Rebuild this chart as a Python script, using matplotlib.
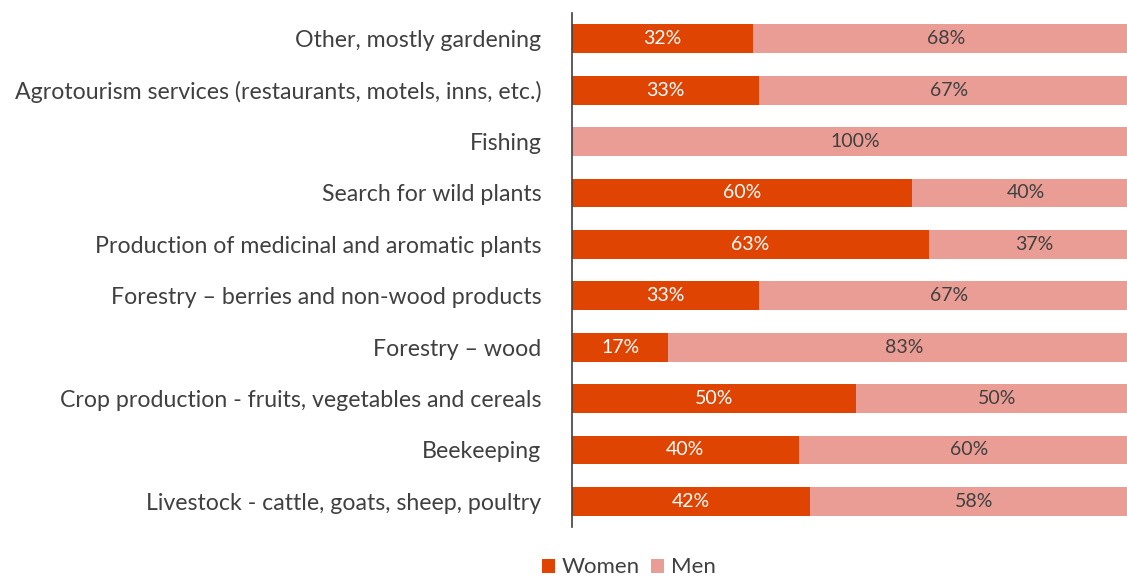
import numpy as np
import matplotlib.pyplot as plt

plt.rcParams['font.family'] = ['Lato', 'DejaVu Sans']

categories = [
    "Livestock - cattle, goats, sheep, poultry",
    "Beekeeping",
    "Crop production - fruits, vegetables and cereals",
    "Forestry \u2013 wood",
    "Forestry \u2013 berries and non-wood products",
    "Production of medicinal and aromatic plants",
    "Search for wild plants",
    "Fishing",
    "Agrotourism services (restaurants, motels, inns, etc.)",
    "Other, mostly gardening",
]
women = [42, 40, 50, 17, 33, 63, 60, 0, 33, 32]
men = [58, 60, 50, 83, 67, 37, 40, 100, 67, 68]

c_women = '#E04403'
c_men = '#E99D94'
text_c = '#404040'

fig = plt.figure(figsize=(11.27, 5.79), dpi=100)
# axes runs a bit past the right edge, like the original
ax = fig.add_axes([572 / 1127, 0.0898, 567 / 1127, 0.8877])

y = np.arange(len(categories))
bw = ax.barh(y, women, height=0.56, color=c_women, label='Women')
bm = ax.barh(y, men, left=women, height=0.56, color=c_men, label='Men')

for i in range(len(categories)):
    if women[i] > 0:
        ax.text(women[i] / 2, y[i], f"{women[i]}%", ha='center', va='center',
                color='white', fontsize=14)
    if men[i] > 0:
        ax.text(women[i] + men[i] / 2, y[i], f"{men[i]}%", ha='center', va='center',
                color=text_c, fontsize=14)

ax.set_xlim(0, 100)
ax.set_ylim(-0.5, len(categories) - 0.5)
ax.set_yticks(y)
ax.set_yticklabels(categories, fontsize=16.7, color=text_c)
ax.tick_params(axis='y', length=0, pad=22)
ax.set_xticks([])
for s in ['top', 'right', 'bottom']:
    ax.spines[s].set_visible(False)
ax.spines['left'].set_color('#404040')
ax.spines['left'].set_linewidth(1.2)

fig.legend(handles=[bw, bm], loc='center', bbox_to_anchor=(0.558, 0.02),
           ncol=2, frameon=False, fontsize=16, handlelength=0.6, handleheight=0.6,
           handletextpad=0.3, columnspacing=0.5, labelcolor=text_c,
           borderpad=0.1)

fig.savefig('out.png', dpi=100)
